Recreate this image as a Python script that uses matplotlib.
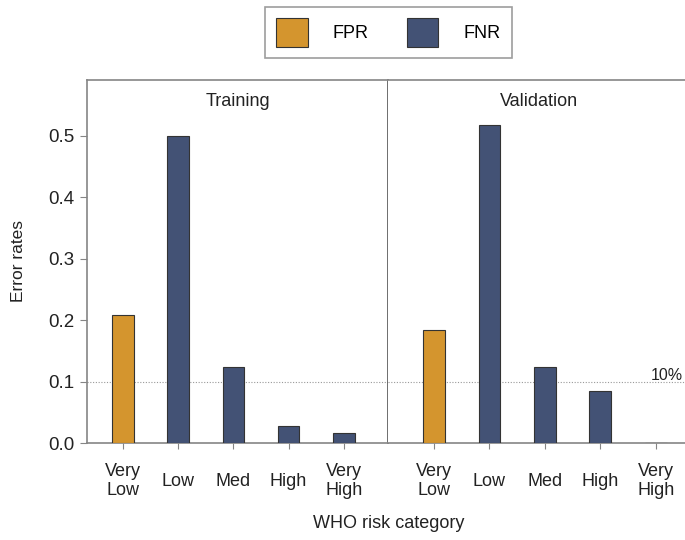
import matplotlib
matplotlib.use("Agg")
import matplotlib.pyplot as plt
from matplotlib.patches import Patch

plt.rcParams['font.family'] = ['Liberation Sans', 'DejaVu Sans']

categories = ["Very\nLow", "Low", "Med", "High", "Very\nHigh"]
panels = ["Training", "Validation"]
train_vals = [0.208, 0.500, 0.124, 0.027, 0.017]
valid_vals = [0.184, 0.517, 0.124, 0.085, 0.0]
metric = ["FPR", "FNR", "FNR", "FNR", "FNR"]
threshold = 0.10
threshold_label = "10%"

colors = {"FPR": "#D4952E", "FNR": "#435275"}
spine_col = "#858585"
text_col = "#222222"
W, H = 685, 540
fig = plt.figure(figsize=(W / 100, H / 100), dpi=100)

def fx(px):
    return px / W

def fy(py):
    return 1 - py / H

bottom = fy(443)
height = (443 - 80) / H
ax1 = fig.add_axes([fx(87), bottom, fx(301), height])
ax2 = fig.add_axes([fx(388), bottom, fx(301), height])

xlims = [(-0.652, 4.80), (-0.83, 4.60)]
for ax, title, vals, xl in zip([ax1, ax2], panels, [train_vals, valid_vals], xlims):
    xs = list(range(len(categories)))
    ax.bar(xs, vals, width=0.39, color=[colors[m] for m in metric],
           edgecolor="#333333", linewidth=0.8, zorder=3)
    ax.axhline(threshold, color="#999999", linestyle=(0, (1, 1.5)), linewidth=0.8, zorder=1)
    ax.set_xlim(*xl)
    ax.set_ylim(0, 0.591)
    ax.set_xticks(xs)
    ax.set_xticklabels(categories, fontsize=13, linespacing=1.15, color=text_col)
    for lbl in ax.get_xticklabels():
        lbl.set_verticalalignment("center")
    ax.tick_params(axis="x", length=4.5, color=spine_col, pad=23)
    ax.text(0.5, 0.94, title, transform=ax.transAxes, ha="center", va="center",
            fontsize=13, color=text_col)
    for s in ax.spines.values():
        s.set_color(spine_col)
        s.set_linewidth(1.2)

ax1.set_yticks([0, 0.1, 0.2, 0.3, 0.4, 0.5])
ax1.set_yticklabels(["0.0", "0.1", "0.2", "0.3", "0.4", "0.5"])
ax1.tick_params(axis="y", length=5, color=spine_col, labelsize=13.5, labelcolor=text_col, pad=4)
ax1.spines["right"].set_color("#555555")
ax2.set_yticks([])
ax2.spines["left"].set_visible(False)
ax2.spines["right"].set_visible(False)
ax1.set_ylabel("Error rates", fontsize=12.5, labelpad=16, color=text_col)

fig.text(fx(683), fy(375), threshold_label, ha="right", va="center", fontsize=11.5, color=text_col)

fig.text(fx(389), fy(524), "WHO risk category", ha="center", va="center",
         fontsize=13, color=text_col)

handles = [Patch(facecolor=colors["FPR"], edgecolor="#333333", linewidth=0.8, label="FPR"),
           Patch(facecolor=colors["FNR"], edgecolor="#333333", linewidth=0.8, label="FNR")]
leg = fig.legend(handles=handles, loc="center", bbox_to_anchor=(fx(388.5), fy(32.5)),
                 ncol=2, fontsize=13, frameon=True, fancybox=False,
                 handlelength=1.75, handleheight=2.15, handletextpad=1.4,
                 columnspacing=2.1, borderpad=0.6, borderaxespad=0)
leg.get_frame().set_edgecolor(spine_col)
leg.get_frame().set_linewidth(1.2)

fig.savefig("out.png", dpi=100)
